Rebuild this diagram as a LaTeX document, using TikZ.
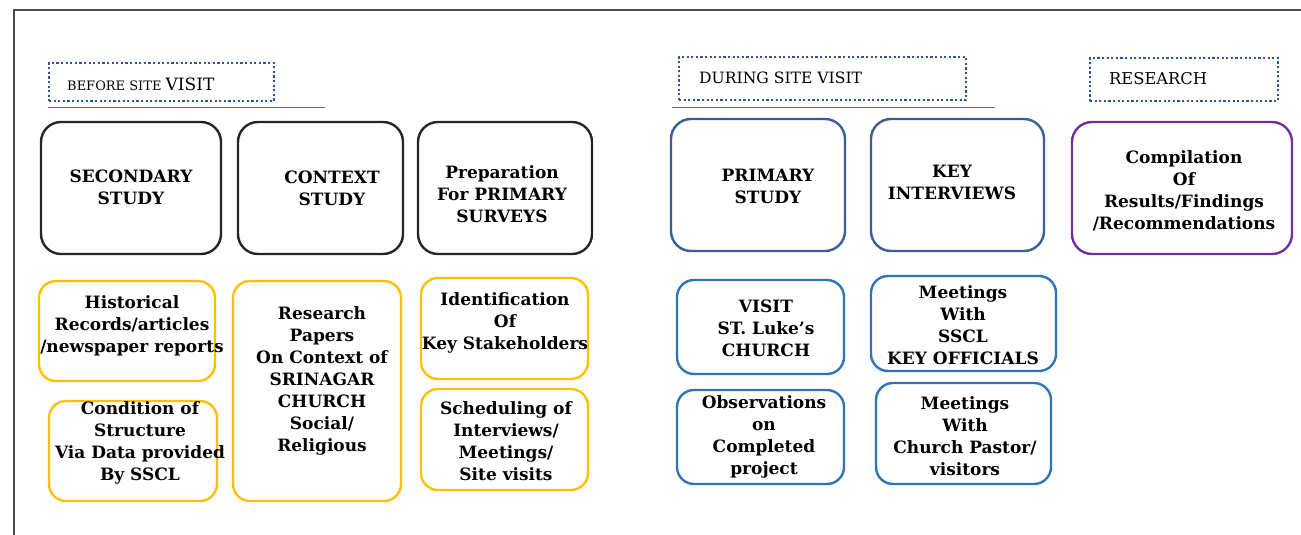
\documentclass[tikz,border=0pt]{standalone}
\usepackage{fontspec}
\setmainfont{DejaVu Serif}
\definecolor{blkline}{HTML}{262626}
\definecolor{dotblue}{HTML}{2F5597}
\definecolor{darkblue}{HTML}{3A5E9C}
\definecolor{midblue}{HTML}{2E75B6}
\definecolor{ylw}{HTML}{FFC000}
\definecolor{purp}{HTML}{7030A0}
\definecolor{framegray}{HTML}{4A4A4A}
\tikzset{
  boxbase/.style={rectangle, inner sep=0pt, line width=2.4pt},
  blackbox/.style={boxbase, draw=blkline, rounded corners=20pt},
  dbluebox/.style={boxbase, draw=darkblue, rounded corners=20pt},
  purplebox/.style={boxbase, draw=purp, rounded corners=20pt},
  yellowbox/.style={boxbase, draw=ylw, rounded corners=17pt},
  mbluebox/.style={boxbase, draw=midblue, rounded corners=17pt},
  hdrbox/.style={rectangle, inner sep=0pt, draw=dotblue, line width=2.4pt, dash pattern=on 2.2pt off 2.4pt},
  txt/.style={align=center, inner sep=0pt, font=\fontsize{17}{22}\selectfont\bfseries},
  hdr/.style={anchor=west, inner sep=0pt, font=\fontsize{15.6}{18}\selectfont},
  uline/.style={draw=framegray!80, line width=1pt},
}
\begin{document}
\begin{tikzpicture}[x=1pt,y=-1pt]
\useasboundingbox (0,0) rectangle (1301,535);
% frame
\coordinate (ftl) at (14,10);
\coordinate (ftr) at (1301,10);
\coordinate (fbl) at (14,535);
\draw[draw=framegray, line width=1.3pt] (fbl) -- (ftl) -- (ftr);

% headers
\node[hdrbox, minimum width=225pt, minimum height=38pt] (before) at (161.5,82) {};
\node[hdr] (beforeT) at (67,84) {\fontsize{13}{15}\selectfont BEFORE SITE \fontsize{17}{18}\selectfont VISIT};
\coordinate (u1a) at (48,107); \coordinate (u1b) at (325,107);
\draw[uline] (u1a) -- (u1b);

\node[hdrbox, minimum width=287pt, minimum height=43pt] (during) at (822.5,78.5) {};
\node[hdr] (duringT) at (699,78) {DURING SITE VISIT};
\coordinate (u2a) at (672,107); \coordinate (u2b) at (995,107);
\draw[uline] (u2a) -- (u2b);

\node[hdrbox, minimum width=188pt, minimum height=43pt] (research) at (1184,79.5) {};
\node[hdr] (researchT) at (1109,79) {\fontsize{16.3}{18}\selectfont RESEARCH};

% row 1
\node[blackbox, minimum width=180pt, minimum height=132pt] (sec) at (131,188) {};
\node[txt] (secT) at (131,187) {SECONDARY\\STUDY};
\node[blackbox, minimum width=165pt, minimum height=132pt] (ctx) at (320.5,188) {};
\node[txt] (ctxT) at (332,188.5) {CONTEXT\\STUDY};
\node[blackbox, minimum width=174pt, minimum height=132pt] (prep) at (505,188) {};
\node[txt] (prepT) at (502,194.5) {Preparation\\For PRIMARY\\SURVEYS};
\node[dbluebox, minimum width=174pt, minimum height=132pt] (prim) at (758,185) {};
\node[txt] (primT) at (768,186.5) {PRIMARY\\STUDY};
\node[dbluebox, minimum width=173pt, minimum height=132pt] (keyi) at (957.5,185) {};
\node[txt] (keyiT) at (952,182.5) {KEY\\INTERVIEWS};
\node[purplebox, minimum width=220pt, minimum height=132pt] (comp) at (1182,188) {};
\node[txt] (compT) at (1184,190.5) {Compilation\\Of\\Results/Findings\\/Recommendations};

% row 2 yellow
\node[yellowbox, minimum width=176pt, minimum height=100pt] (hist) at (127,331) {};
\node[txt] (histT) at (132,325.5) {Historical\\Records/articles\\/newspaper reports};
\node[yellowbox, minimum width=168pt, minimum height=100pt] (cond) at (133,451) {};
\node[txt] (condT) at (140,442.5) {Condition of\\Structure\\Via Data provided\\By SSCL};
\node[yellowbox, minimum width=168pt, minimum height=220pt] (resp) at (317,391) {};
\node[txt] (respT) at (322,381) {Research\\Papers\\On Context of\\SRINAGAR\\CHURCH\\Social/\\Religious};
\node[yellowbox, minimum width=167pt, minimum height=101pt] (ident) at (504.5,328.5) {};
\node[txt] (identT) at (505,323) {Identification\\Of\\Key Stakeholders};
\node[yellowbox, minimum width=167pt, minimum height=101pt] (sched) at (504.5,439.5) {};
\node[txt] (schedT) at (506,441) {Scheduling of\\Interviews/\\Meetings/\\Site visits};

% row 2 blue
\node[mbluebox, minimum width=167pt, minimum height=94pt] (visit) at (760.5,327) {};
\node[txt] (visitT) at (766,328.5) {VISIT\\ST. Luke's\\CHURCH};
\node[mbluebox, minimum width=167pt, minimum height=94pt] (obs) at (760.5,437) {};
\node[txt] (obsT) at (764,437) {Observations\\on\\Completed\\project};
\node[mbluebox, minimum width=185pt, minimum height=95pt] (mssc) at (963.5,323.5) {};
\node[txt] (msscT) at (963,325.5) {Meetings\\With\\SSCL\\KEY OFFICIALS};
\node[mbluebox, minimum width=175pt, minimum height=101pt] (mchu) at (963.5,433.5) {};
\node[txt] (mchuT) at (965,436.5) {Meetings\\With\\Church Pastor/\\visitors};
\end{tikzpicture}
\end{document}
